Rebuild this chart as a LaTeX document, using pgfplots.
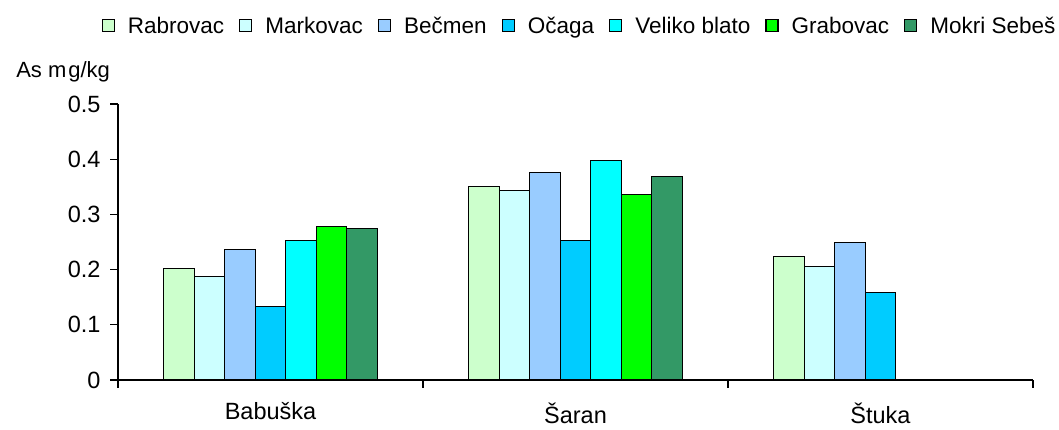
\documentclass[border=0pt]{standalone}
\usepackage{pgfplots}
\pgfplotsset{compat=1.18}
\usepackage{fontspec}
\setmainfont{Liberation Sans}
\definecolor{cRab}{HTML}{CCFFCC}
\definecolor{cMar}{HTML}{CCFFFF}
\definecolor{cBec}{HTML}{99CCFF}
\definecolor{cOca}{HTML}{00CCFF}
\definecolor{cVel}{HTML}{00FFFF}
\definecolor{cGra}{HTML}{00FF00}
\definecolor{cMok}{HTML}{339966}
\begin{document}
\begin{tikzpicture}[x=1pt,y=1pt]
\useasboundingbox (0,0) rectangle (1059,430);
\begin{axis}[
  at={(118pt,50pt)}, anchor=south west,
  width=915pt, height=276pt, scale only axis,
  ybar=0pt, bar width=0.1,
  xmin=-0.5, xmax=2.5, ymin=0, ymax=0.5,
  axis lines*=left,
  axis line style={line width=1.2pt, black},
  tick align=outside,
  major tick length=8pt,
  tick style={line width=1.2pt, black},
  xtick={-0.5,0.5,1.5,2.5},
  xticklabels={Babuška,Šaran,Štuka},
  x tick label as interval,
  xtick pos=bottom, ytick pos=left,
  ytick={0,0.1,0.2,0.3,0.4,0.5},
  yticklabels={0,0.1,0.2,0.3,0.4,0.5},
  tick label style={font=\fontsize{23.5}{28}\selectfont},
  xticklabel style={yshift=-11pt},
  yticklabel style={xshift=-6pt},
  every axis y label/.style={at={(-0.115,1.116)}, anchor=west, font=\fontsize{22}{26}\selectfont},
  ylabel={As m\hspace{2pt}g/kg},
  legend columns=-1,
  legend style={at={(-0.0180,1.283)}, anchor=west, draw=none, inner sep=0pt,
    nodes={inner sep=0pt},
    font=\fontsize{22.5}{27}\selectfont,
    /tikz/every odd column/.append style={column sep=13pt},
    /tikz/every even column/.append style={column sep=15pt}},
  legend image code/.code={\draw[#1, line width=1.2pt] (0pt,-6pt) rectangle (12pt,6pt);},
  every axis plot/.append style={draw=black, line width=1.2pt},
]
\addplot[fill=cRab] coordinates {(0,0.202) (1,0.350) (2,0.224)};
\addplot[fill=cMar] coordinates {(0,0.187) (1,0.344) (2,0.205)};
\addplot[fill=cBec] coordinates {(0,0.237) (1,0.376) (2,0.249)};
\addplot[fill=cOca] coordinates {(0,0.133) (1,0.252) (2,0.159)};
\addplot[fill=cVel] coordinates {(0,0.252) (1,0.397)};
\addplot[fill=cGra] coordinates {(0,0.278) (1,0.336)};
\addplot[fill=cMok] coordinates {(0,0.274) (1,0.368)};
\legend{Rabrovac,Markovac,Bečmen,Očaga,Veliko blato,Grabovac,Mokri Sebeš}
\end{axis}
\end{tikzpicture}
\end{document}
